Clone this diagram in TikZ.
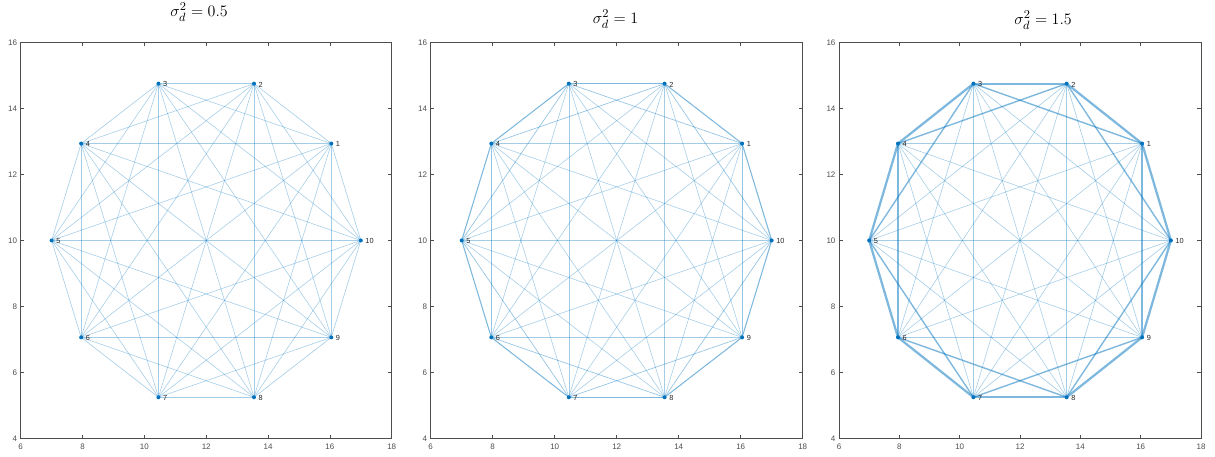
\documentclass[tikz,border=0pt]{standalone}
\usepackage{fontspec}
\newfontfamily\axfont{Liberation Sans}
\definecolor{mlblue}{HTML}{0072BD}
\definecolor{axgray}{HTML}{4D4D4D}
\definecolor{txgray}{HTML}{262626}
\pgfdeclarelayer{edges}
\pgfsetlayers{edges,main}
\tikzset{
  vert/.style={circle, fill=mlblue, inner sep=0pt, minimum size=3pt},
  vlab/.style={anchor=west, inner sep=0pt, xshift=3.3pt, yshift=-0.6pt, text=txgray, font=\axfont\fontsize{5.5}{6.5}\selectfont},
  edge/.style={draw=mlblue, draw opacity=0.36, line width=0.42pt},
  e1/.style={}, e2/.style={}, e3/.style={}, e4/.style={}, e5/.style={},
  axbox/.style={draw=axgray, line width=0.45pt},
  xtick/.style={anchor=north, inner sep=0pt, yshift=-4.3pt, text=axgray, font=\axfont\fontsize{6}{7}\selectfont},
  ytick/.style={anchor=east, inner sep=0pt, xshift=-2.5pt, text=axgray, font=\axfont\fontsize{6}{7}\selectfont},
  ptitle/.style={anchor=base, font=\fontsize{12.5}{15}\selectfont}
}

\begin{document}
\begin{tikzpicture}[x=0.75pt, y=0.75pt]
\useasboundingbox (0,0) rectangle (1215,457);

% =====================================================
% Panel 1: sigma_d^2 = 0.5
% =====================================================
\node[ptitle] (p1-title) at (199,440.3) {$\sigma_d^2 = 0.5$};
\begin{scope}[shift={(20.7,18.7)}, x=23.19pt, y=24.73pt, shift={(-6,-4)},
  e1/.style={line width=0.45pt}]
  % axes box and ticks
  \draw[axbox] (6,4) rectangle (18,16);
  \foreach \t in {6,8,...,18} {
    \draw[axbox] (\t,4) -- ++(0pt,2.8pt) (\t,16) -- ++(0pt,-2.8pt);
    \node[xtick] (p1-x\t) at (\t,4) {\t};
  }
  \foreach \t in {4,6,...,16} {
    \draw[axbox] (6,\t) -- ++(2.8pt,0pt) (18,\t) -- ++(-2.8pt,0pt);
    \node[ytick] (p1-y\t) at (6,\t) {\t};
  }
  % vertices on the decagon
  \foreach \k in {1,...,10} {
    \node[vert] (p1-\k) at ({12+5*cos(36*\k)}, {10+5*sin(36*\k)}) {};
    \node[vlab] (p1-l\k) at (p1-\k.center) {\k};
  }
  % all edges
  \begin{pgfonlayer}{edges}
  \foreach \i in {1,...,9} {
    \pgfmathtruncatemacro\nx{\i+1}
    \foreach \j in {\nx,...,10} {
      \pgfmathtruncatemacro\dst{min(\j-\i,10-\j+\i)}
      \draw[edge, e\dst] (p1-\i.center) -- (p1-\j.center);
    }
  }
  \end{pgfonlayer}
\end{scope}

% =====================================================
% Panel 2: sigma_d^2 = 1
% =====================================================
\node[ptitle] (p2-title) at (615.5,433.5) {$\sigma_d^2 = 1$};
\begin{scope}[shift={(430.7,18.7)}, x=23.25pt, y=24.73pt, shift={(-6,-4)},
  e1/.style={line width=0.8pt, draw opacity=0.5}, e2/.style={line width=0.5pt, draw opacity=0.42}]
  % axes box and ticks
  \draw[axbox] (6,4) rectangle (18,16);
  \foreach \t in {6,8,...,18} {
    \draw[axbox] (\t,4) -- ++(0pt,2.8pt) (\t,16) -- ++(0pt,-2.8pt);
    \node[xtick] (p2-x\t) at (\t,4) {\t};
  }
  \foreach \t in {4,6,...,16} {
    \draw[axbox] (6,\t) -- ++(2.8pt,0pt) (18,\t) -- ++(-2.8pt,0pt);
    \node[ytick] (p2-y\t) at (6,\t) {\t};
  }
  % vertices on the decagon
  \foreach \k in {1,...,10} {
    \node[vert] (p2-\k) at ({12+5*cos(36*\k)}, {10+5*sin(36*\k)}) {};
    \node[vlab] (p2-l\k) at (p2-\k.center) {\k};
  }
  % all edges
  \begin{pgfonlayer}{edges}
  \foreach \i in {1,...,9} {
    \pgfmathtruncatemacro\nx{\i+1}
    \foreach \j in {\nx,...,10} {
      \pgfmathtruncatemacro\dst{min(\j-\i,10-\j+\i)}
      \draw[edge, e\dst] (p2-\i.center) -- (p2-\j.center);
    }
  }
  \end{pgfonlayer}
\end{scope}

% =====================================================
% Panel 3: sigma_d^2 = 1.5
% =====================================================
\node[ptitle] (p3-title) at (1043,432.5) {$\sigma_d^2 = 1.5$};
\begin{scope}[shift={(839,18.7)}, x=22.63pt, y=24.73pt, shift={(-6,-4)},
  e1/.style={line width=1.7pt, draw opacity=0.5}, e2/.style={line width=1.05pt, draw opacity=0.5},
  e3/.style={line width=0.45pt}]
  % axes box and ticks
  \draw[axbox] (6,4) rectangle (18,16);
  \foreach \t in {6,8,...,18} {
    \draw[axbox] (\t,4) -- ++(0pt,2.8pt) (\t,16) -- ++(0pt,-2.8pt);
    \node[xtick] (p3-x\t) at (\t,4) {\t};
  }
  \foreach \t in {4,6,...,16} {
    \draw[axbox] (6,\t) -- ++(2.8pt,0pt) (18,\t) -- ++(-2.8pt,0pt);
    \node[ytick] (p3-y\t) at (6,\t) {\t};
  }
  % vertices on the decagon
  \foreach \k in {1,...,10} {
    \node[vert] (p3-\k) at ({12+5*cos(36*\k)}, {10+5*sin(36*\k)}) {};
    \node[vlab] (p3-l\k) at (p3-\k.center) {\k};
  }
  % all edges
  \begin{pgfonlayer}{edges}
  \foreach \i in {1,...,9} {
    \pgfmathtruncatemacro\nx{\i+1}
    \foreach \j in {\nx,...,10} {
      \pgfmathtruncatemacro\dst{min(\j-\i,10-\j+\i)}
      \draw[edge, e\dst] (p3-\i.center) -- (p3-\j.center);
    }
  }
  \end{pgfonlayer}
\end{scope}

\end{tikzpicture}
\end{document}
